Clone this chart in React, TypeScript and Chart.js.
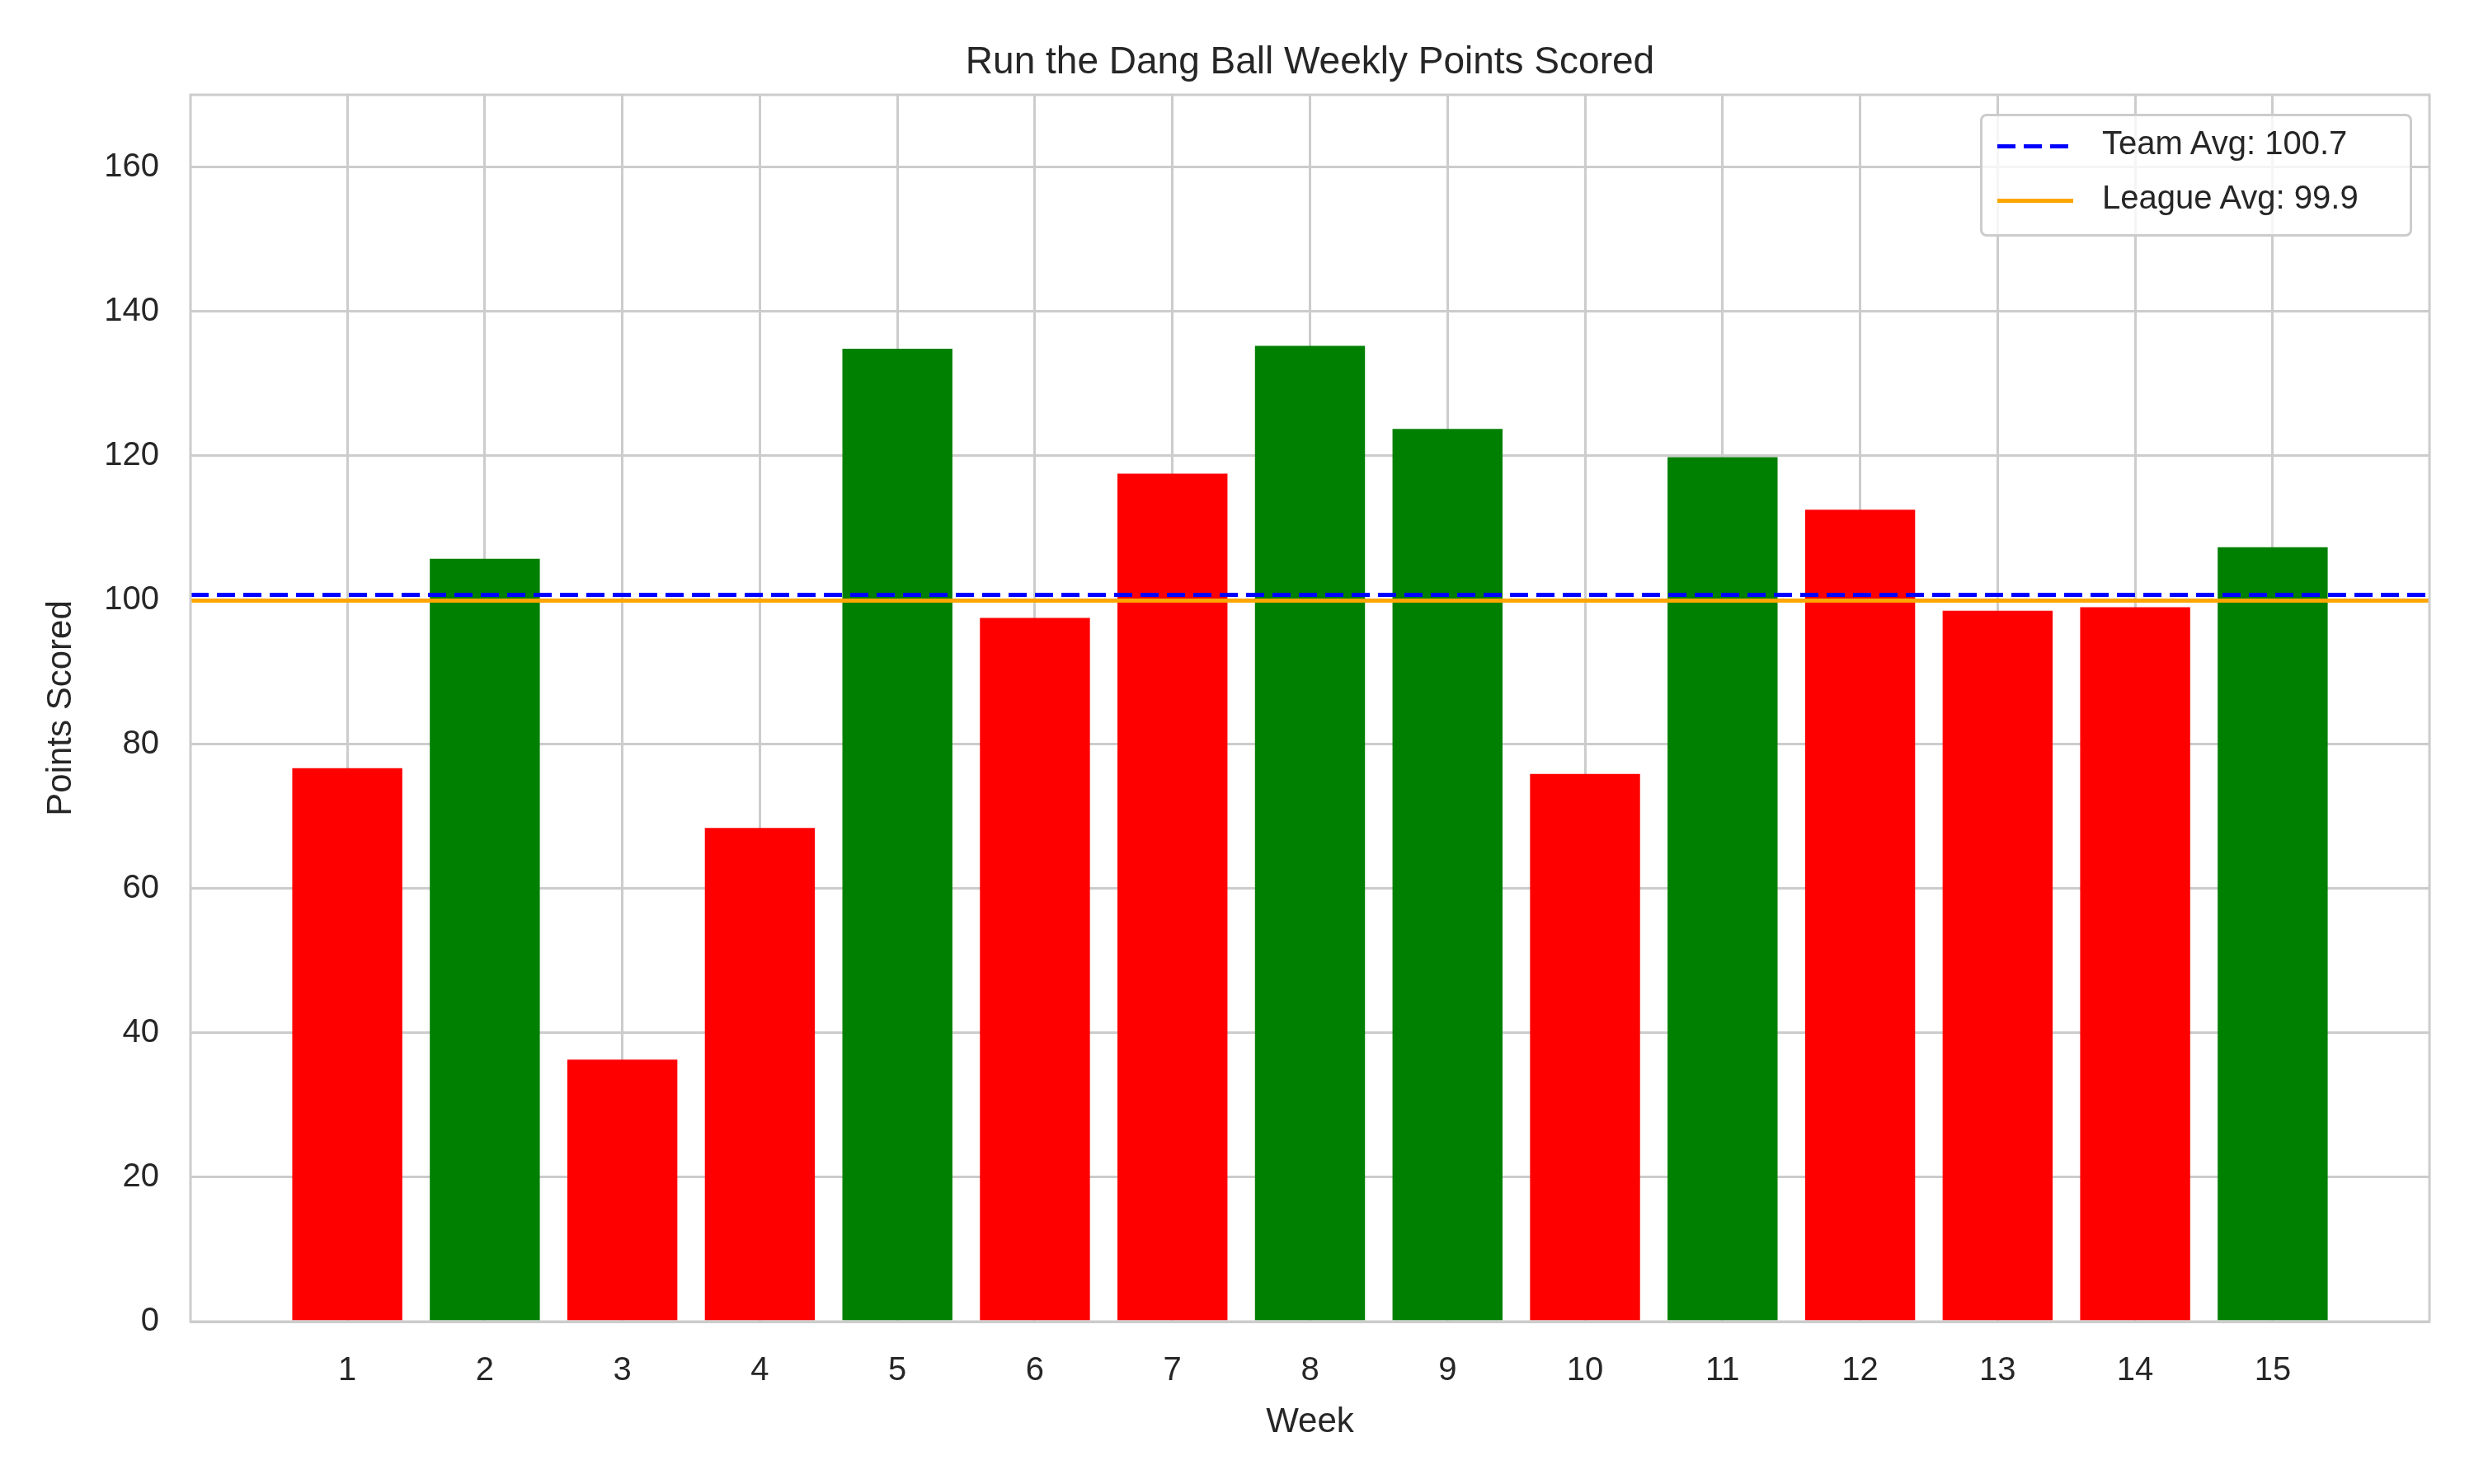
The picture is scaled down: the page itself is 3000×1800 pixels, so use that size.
import { useEffect, useRef } from 'react';
import { Chart, registerables } from 'chart.js';

Chart.register(...registerables);

const weeks = [1, 2, 3, 4, 5, 6, 7, 8, 9, 10, 11, 12, 13, 14, 15];
const points = [76.7, 105.7, 36.3, 68.4, 134.8, 97.5, 117.5, 135.2, 123.7, 75.9, 119.8, 112.5, 98.5, 99.0, 107.3];
const barColors = ['red', 'green', 'red', 'red', 'green', 'red', 'red', 'green', 'green', 'red', 'green', 'red', 'red', 'red', 'green'];
const teamAvg = 100.7;
const leagueAvg = 99.9;
const xMin = -0.14;
const xMax = 16.14;

const FONT = '"Liberation Sans", Arial, sans-serif';

const frame = {
  id: 'frame',
  afterDatasetsDraw(chart: Chart) {
    const { ctx, chartArea: a } = chart;
    ctx.save();
    ctx.strokeStyle = '#cccccc';
    ctx.lineWidth = 3;
    ctx.strokeRect(a.left, a.top, a.right - a.left, a.bottom - a.top);
    ctx.restore();
  },
};

export default function App() {
  const ref = useRef<HTMLCanvasElement>(null);

  useEffect(() => {
    if (!ref.current) return;
    const chart = new Chart(ref.current, {
      type: 'bar',
      data: {
        datasets: [
          {
            type: 'line',
            data: [{ x: xMin, y: teamAvg }, { x: xMax, y: teamAvg }],
            borderColor: 'blue',
            borderWidth: 5,
            borderDash: [22, 10],
            pointRadius: 0,
            order: 0,
          },
          {
            type: 'line',
            data: [{ x: xMin, y: leagueAvg }, { x: xMax, y: leagueAvg }],
            borderColor: 'orange',
            borderWidth: 5,
            pointRadius: 0,
            order: 1,
          },
          {
            type: 'bar',
            data: weeks.map((w, i) => ({ x: w, y: points[i] })),
            backgroundColor: barColors,
            barPercentage: 0.8,
            categoryPercentage: 1,
            order: 2,
          },
        ] as any,
      },
      options: {
        animation: false,
        responsive: false,
        devicePixelRatio: 1,
        layout: { padding: { top: 115, right: 54, left: 45, bottom: 45 } },
        plugins: { legend: { display: false }, tooltip: { enabled: false } },
        scales: {
          x: {
            type: 'linear',
            min: xMin,
            max: xMax,
            offset: false,
            afterBuildTicks: (s: any) => { s.ticks = weeks.map(v => ({ value: v })); },
            afterFit: (s: any) => { s.height = 152; },
            ticks: { color: '#262626', font: { family: FONT, size: 40 }, padding: 36, callback: (v: any) => String(v) },
            grid: { color: '#cccccc', lineWidth: 3, drawTicks: false, offset: false },
            border: { display: false },
            title: { display: true, text: 'Week', color: '#262626', font: { family: FONT, size: 42 }, padding: { top: 4 } },
          },
          y: {
            min: 0,
            max: 170,
            afterBuildTicks: (s: any) => { s.ticks = [0, 20, 40, 60, 80, 100, 120, 140, 160].map(v => ({ value: v })); },
            afterFit: (s: any) => { s.width = 186; },
            ticks: { color: '#262626', font: { family: FONT, size: 40 }, padding: 38 },
            grid: { color: '#cccccc', lineWidth: 3, drawTicks: false },
            border: { display: false },
            title: { display: true, text: 'Points Scored', color: '#262626', font: { family: FONT, size: 42 }, padding: { bottom: 10 } },
          },
        },
      },
      plugins: [frame],
    });
    return () => chart.destroy();
  }, []);

  return (
    <div style={{ position: 'absolute', left: 0, top: 0, width: 3000, height: 1800, background: '#fff', fontFamily: FONT, color: '#262626' }}>
      <canvas ref={ref} width={3000} height={1800} />
      <div style={{ position: 'absolute', left: 231, width: 2715, top: 46, textAlign: 'center', fontSize: 46 }}>
        Run the Dang Ball Weekly Points Scored
      </div>
      <div style={{ position: 'absolute', left: 2401, top: 138, width: 518, height: 143, border: '3px solid #cccccc', borderRadius: 8, background: 'rgba(255,255,255,0.8)', fontSize: 40 }}>
        <div style={{ position: 'absolute', left: 18, top: 34, width: 92, height: 5, background: 'repeating-linear-gradient(to right, blue 0 22px, transparent 22px 32px)' }} />
        <div style={{ position: 'absolute', left: 145, top: 10 }}>Team Avg: 100.7</div>
        <div style={{ position: 'absolute', left: 18, top: 100, width: 92, borderTop: '5px solid orange' }} />
        <div style={{ position: 'absolute', left: 145, top: 76 }}>League Avg: 99.9</div>
      </div>
    </div>
  );
}
